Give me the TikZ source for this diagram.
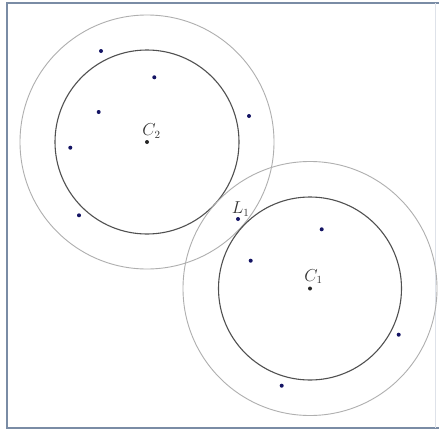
\documentclass[tikz,border=0pt]{standalone}
\usepackage{xcolor}
\definecolor{framec}{RGB}{122,140,165}
\definecolor{dotc}{RGB}{20,20,100}
\definecolor{innerc}{RGB}{80,80,80}
\definecolor{outerc}{RGB}{175,175,175}
\begin{document}
\begin{tikzpicture}[x=1pt,y=-1pt,
  pt/.style={circle,fill=dotc,inner sep=0pt,minimum size=4pt},
  ctr/.style={circle,fill=black!85,inner sep=0pt,minimum size=4pt},
  lab/.style={inner sep=0pt,text=black!80,font=\fontsize{16}{18}\selectfont},
  inner/.style={draw=innerc,line width=1.1pt},
  outer/.style={draw=outerc,line width=0.9pt}]
\useasboundingbox (0,0) rectangle (439,431);
\fill[white] (0,0) rectangle (439,431);
% frame
\draw[framec,line width=2pt] (439,3) -- (7,3) -- (7,428) -- (439,428);
\draw[framec!25,line width=0.6pt] (435,3) -- (435,428);
% centres
\coordinate (c2) at (147,142);
\coordinate (c1) at (310,288.5);
% circles
\draw[outer] (c2) circle[radius=127];
\draw[inner] (c2) circle[radius=92];
\draw[outer] (c1) circle[radius=127];
\draw[inner] (c1) circle[radius=91.5];
% centre points
\node[ctr] (C2) at (c2) {};
\node[ctr] (C1) at (c1) {};
\node[pt] (L1) at (238,219) {};
% labels
\node[lab] (C2lab) at (151.5,131) {$C_2$};
\node[lab] (C1lab) at (313.5,276.5) {$C_1$};
\node[lab] (L1lab) at (240.5,209) {$L_1$};
% other points
\node[pt] (p1) at (101,51) {};
\node[pt] (p2) at (154.3,77.3) {};
\node[pt] (p3) at (98.7,112) {};
\node[pt] (p4) at (70.3,147.7) {};
\node[pt] (p5) at (79,215.3) {};
\node[pt] (p6) at (249,116) {};
\node[pt] (q1) at (321.7,229.3) {};
\node[pt] (q2) at (250.7,260.7) {};
\node[pt] (q3) at (398.7,334.7) {};
\node[pt] (q4) at (281.7,385.7) {};
\end{tikzpicture}
\end{document}
